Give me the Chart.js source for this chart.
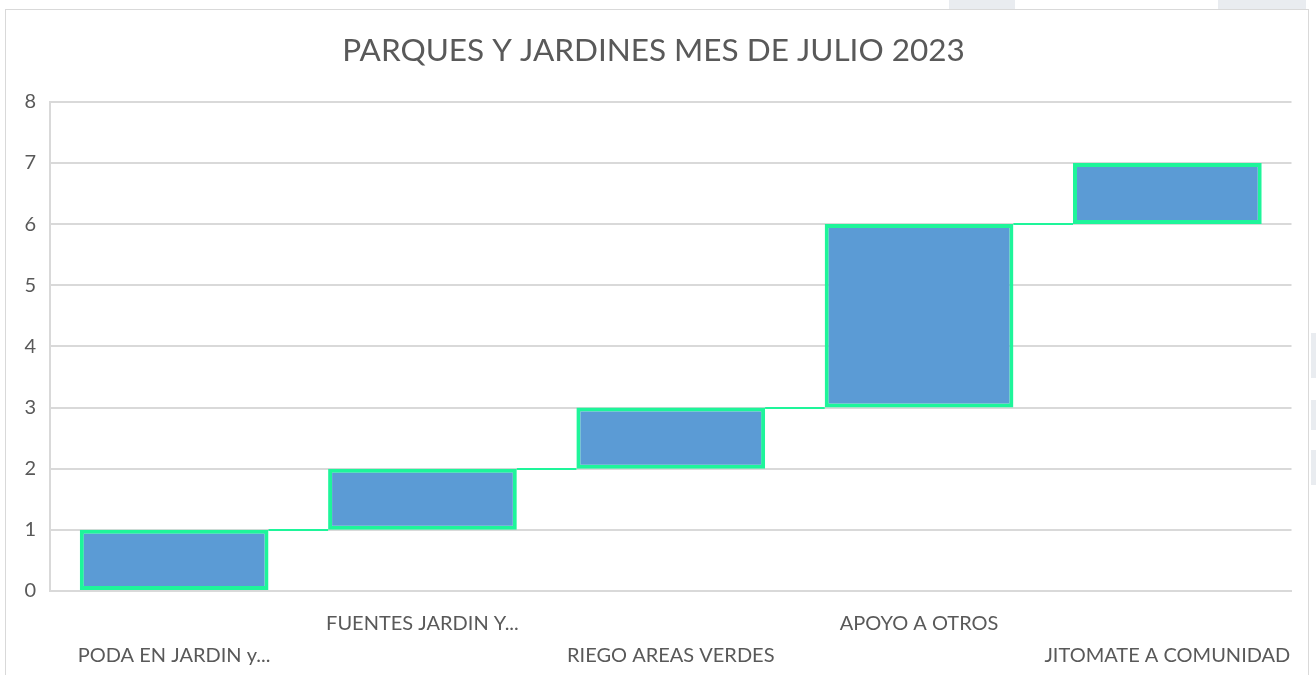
<!DOCTYPE html>
<html>
<head>
<meta charset="utf-8">
<script src="https://cdn.jsdelivr.net/npm/chart.js@4"></script>
<style>
  html, body { margin: 0; padding: 0; background: #ffffff; width: 1316px; height: 675px; overflow: hidden; position: relative; }
  .deco { position: absolute; background: #e9ecf0; }
  #frame { position: absolute; left: 5px; top: 9px; width: 1304px; height: 680px; border: 1px solid #d9d9d9; background: #fff; box-sizing: border-box; }
  #wrap { position: absolute; left: 6px; top: 10px; width: 1302px; height: 665px; }
</style>
</head>
<body>
<div class="deco" style="left:949px;top:0;width:66px;height:9px"></div>
<div class="deco" style="left:1218px;top:0;width:88px;height:9px"></div>
<div class="deco" style="left:1311px;top:333px;width:5px;height:45px"></div>
<div class="deco" style="left:1311px;top:400px;width:5px;height:30px"></div>
<div class="deco" style="left:1311px;top:450px;width:5px;height:35px"></div>
<div id="frame"></div>
<div id="wrap"><canvas id="c"></canvas></div>
<script>
const categories = ['PODA EN JARDIN y...', 'FUENTES JARDIN Y...', 'RIEGO AREAS VERDES', 'APOYO A OTROS', 'JITOMATE A COMUNIDAD'];
const changes = [1, 1, 1, 3, 1];
const yTicks = [0, 1, 2, 3, 4, 5, 6, 7, 8];

const starts = [];
const ends = [];
let run = 0;
for (const v of changes) { starts.push(run); run += v; ends.push(run); }
const ranges = starts.map((s, i) => [s, ends[i]]);
const labels = categories.map((c, i) => i % 2 === 0 ? ['', c] : [c]);

const connectorPlugin = {
  id: 'connectors',
  afterDatasetsDraw(chart) {
    const meta = chart.getDatasetMeta(0);
    const y = chart.scales.y;
    const ctx = chart.ctx;
    ctx.save();
    ctx.strokeStyle = '#1ef59a';
    ctx.lineWidth = 2;
    for (let i = 0; i < meta.data.length - 1; i++) {
      const a = meta.data[i], b = meta.data[i + 1];
      const py = Math.round(y.getPixelForValue(ends[i]));
      ctx.beginPath();
      ctx.moveTo(a.x + a.width / 2, py);
      ctx.lineTo(b.x - b.width / 2, py);
      ctx.stroke();
    }
    ctx.restore();
  }
};

new Chart(document.getElementById('c'), {
  type: 'bar',
  data: {
    labels: labels,
    datasets: [{
      data: ranges,
      backgroundColor: '#5b9bd5',
      borderColor: '#1ef59a',
      borderWidth: 4,
      borderSkipped: false,
      categoryPercentage: 1,
      barPercentage: 0.76
    }]
  },
  options: {
    responsive: true,
    maintainAspectRatio: false,
    animation: false,
    layout: { padding: { left: 0, right: 7, top: 0, bottom: 0 } },
    plugins: {
      legend: { display: false },
      tooltip: { enabled: false },
      title: {
        display: true,
        text: 'PARQUES Y JARDINES MES DE JULIO 2023',
        color: '#595959',
        font: { family: 'Lato', size: 31.5, weight: 'normal' },
        padding: { top: 22, bottom: 32 }
      }
    },
    scales: {
      x: {
        grid: { display: false, drawTicks: false },
        border: { display: true, color: '#d9d9d9', width: 2 },
        ticks: {
          color: '#595959',
          font: { family: 'Lato', size: 20, lineHeight: 1.6 },
          padding: 17,
          maxRotation: 0,
          autoSkip: false
        },
        afterFit(scale) { scale.height = 84; }
      },
      y: {
        min: 0,
        max: 8,
        afterBuildTicks(scale) { scale.ticks = yTicks.map(v => ({ value: v })); },
        grid: { color: '#d9d9d9', lineWidth: 2, drawTicks: false },
        border: { display: true, color: '#d9d9d9', width: 2 },
        ticks: {
          color: '#595959',
          font: { family: 'Lato', size: 20 },
          padding: 14
        },
        afterFit(scale) { scale.width = 44; }
      }
    }
  },
  plugins: [connectorPlugin]
});
</script>
</body>
</html>
